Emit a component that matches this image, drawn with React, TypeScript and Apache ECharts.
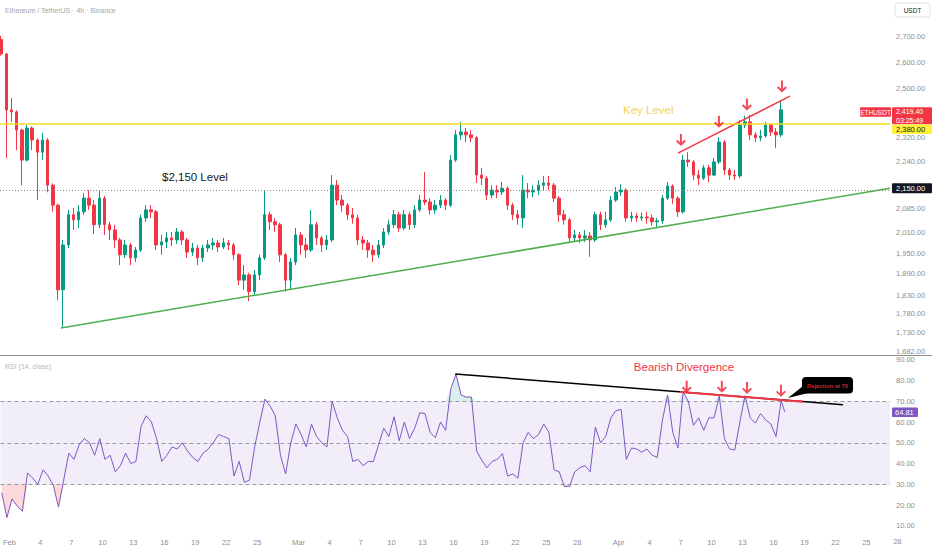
import React, { useEffect, useRef } from "react";
import * as echarts from "echarts";

// ---- time layout of the 12h candles (days from Feb 1, 00:00) ----
const FIRST_DAY = -0.75;
const CANDLE_STEP_DAYS = 0.5;
const FIRST_OPEN = 2690;

const closes = [
  2632, 2419, 2412, 2347, 2243, 2354, 2312, 2270, 2312, 2160,
  2096, 1845, 1974, 2066, 2050, 2075, 2118, 2096, 2035, 2118,
  2035, 2019, 1989, 1945, 1974, 1936, 1959, 2056, 2081, 2075,
  1974, 1983, 1995, 1989, 2013, 1989, 1953, 1965, 1936, 1965,
  1974, 1980, 1968, 1980, 1974, 1945, 1872, 1887, 1840, 1887,
  1936, 2066, 2044, 2035, 1945, 1872, 1924, 2004, 1974, 1959,
  2035, 1995, 1974, 1989, 2160, 2112, 2096, 2066, 2056, 1989,
  1980, 1959, 1945, 1974, 2013, 2035, 2066, 2025, 2066, 2035,
  2081, 2112, 2106, 2081, 2096, 2112, 2096, 2243, 2330, 2340,
  2330, 2320, 2193, 2183, 2128, 2144, 2138, 2150, 2096, 2066,
  2056, 2144, 2138, 2144, 2160, 2167, 2160, 2118, 2066, 2050,
  1995, 2004, 1995, 2001, 1989, 2066, 2035, 2050, 2112, 2138,
  2144, 2056, 2062, 2056, 2059, 2056, 2044, 2047, 2118, 2157,
  2118, 2075, 2243, 2237, 2193, 2183, 2217, 2193, 2237, 2305,
  2210, 2193, 2190, 2365, 2376, 2330, 2320, 2326, 2365, 2340,
  2330, 2419.4,
];
const highs = [
  2705, 2636, 2463, 2418, 2352, 2365, 2360, 2318, 2337, 2318,
  2166, 2100, 1989, 2081, 2087, 2096, 2134, 2144, 2112, 2144,
  2125, 2044, 2035, 1995, 1989, 1980, 1968, 2066, 2096, 2096,
  2081, 2004, 2013, 2013, 2025, 2019, 1995, 1980, 1974, 1974,
  1989, 1995, 1989, 1995, 1989, 1980, 1950, 1915, 1893, 1901,
  1945, 2144, 2075, 2056, 2041, 1950, 1936, 2025, 2013, 1995,
  2081, 2044, 2001, 2004, 2193, 2177, 2128, 2103, 2087, 2066,
  2001, 1989, 1974, 1989, 2025, 2050, 2081, 2075, 2081, 2075,
  2096, 2128, 2203, 2118, 2112, 2128, 2118, 2260, 2347, 2376,
  2354, 2347, 2325, 2217, 2190, 2160, 2160, 2170, 2156, 2103,
  2081, 2193, 2167, 2160, 2177, 2190, 2190, 2167, 2125, 2081,
  2056, 2019, 2013, 2019, 2013, 2075, 2075, 2075, 2125, 2154,
  2163, 2150, 2075, 2072, 2072, 2075, 2066, 2056, 2128, 2170,
  2163, 2125, 2260, 2270, 2243, 2210, 2227, 2227, 2250, 2322,
  2312, 2217, 2210, 2383, 2398, 2401, 2340, 2347, 2376, 2369,
  2354, 2456,
];
const lows = [
  2625, 2250, 2376, 2277, 2160, 2238, 2277, 2112, 2243, 2137,
  2075, 1817, 1745, 1965, 2019, 2025, 2066, 2081, 2007, 2025,
  2004, 1989, 1965, 1915, 1936, 1915, 1924, 1953, 2044, 2056,
  1959, 1945, 1965, 1971, 1977, 1974, 1936, 1942, 1915, 1924,
  1953, 1959, 1953, 1962, 1959, 1930, 1858, 1845, 1814, 1831,
  1872, 1930, 2019, 2013, 1924, 1840, 1845, 1915, 1945, 1936,
  1953, 1974, 1953, 1959, 1983, 2096, 2075, 2050, 2038, 1974,
  1959, 1936, 1924, 1936, 1965, 2004, 2025, 2013, 2019, 2019,
  2025, 2075, 2096, 2066, 2069, 2087, 2081, 2090, 2237, 2312,
  2305, 2305, 2167, 2160, 2112, 2118, 2118, 2128, 2081, 2050,
  2035, 2025, 2118, 2122, 2128, 2144, 2144, 2106, 2044, 2035,
  1980, 1983, 1980, 1983, 1939, 1983, 2019, 2025, 2044, 2106,
  2125, 2044, 2044, 2044, 2047, 2038, 2032, 2025, 2038, 2112,
  2100, 2059, 2069, 2220, 2177, 2160, 2177, 2170, 2190, 2230,
  2193, 2177, 2177, 2183, 2354, 2312, 2305, 2308, 2320, 2326,
  2284, 2322,
];

// RSI(14) sampled at the candles, plus the live value
const rsi = [
  26, 14, 23, 19.5, 17, 35.5, 33, 30, 37, 34,
  29.5, 19, 32, 45, 42, 49, 52, 50, 44, 52,
  42, 44, 36, 39, 45, 40, 41, 58, 63, 60,
  52, 41, 44, 48, 47, 50, 46, 43, 41, 45,
  47, 50, 54, 53, 52, 34, 41, 31, 32, 48,
  60, 71, 67.6, 63, 44, 35, 50, 59, 54, 48,
  59, 53, 50, 48, 70, 62, 56, 53, 41, 42,
  39, 41, 41, 49, 57, 53, 62.5, 51, 60, 52,
  57, 64.5, 64, 55, 52.5, 60, 56, 76, 83, 73,
  72, 72, 46, 41.6, 38, 41, 42, 44.8, 34, 35,
  33, 50, 55, 52, 54, 59, 55, 37, 36, 29,
  29, 36, 38, 39, 36, 57.6, 50, 53, 62, 65.5,
  66, 42, 47.5, 47, 45.5, 47, 44, 43, 61, 73,
  55, 47.5, 74.5, 70, 58.4, 62, 56, 62, 62, 72.5,
  52, 47, 46.5, 60, 72.7, 62, 59.5, 64, 61, 59,
  53, 70.3,
];
const RSI_LIVE = 64.81;
const RSI_LIVE_LAG_DAYS = 0.35;
const LAST_PRICE = 2419.4;
const LAST_COUNTDOWN = "03:25:49";
const KEY_LEVEL = 2380;
const SUPPORT_LEVEL = 2150;
const RSI_LOW = 30;
const RSI_MID = 50;
const RSI_HIGH = 70;

// axes (2,400 and 2,150 sit under the price badges and are not shown)
const priceTicks = [2700, 2600, 2500, 2320, 2240, 2085, 2010, 1950, 1890, 1830, 1780, 1730, 1682];
const rsiTicks = [10, 20, 30, 40, 50, 60, 70, 80, 90];
const dateTickDays = [0, 3, 6, 9, 12, 15, 18, 21, 24, 28, 31, 34, 37, 40, 43, 46, 49, 52, 55, 59, 62, 65, 68, 71, 74, 77, 80, 83];
const dateTickLabels = ["Feb", "4", "7", "10", "13", "16", "19", "22", "25", "Mar", "4", "7", "10", "13", "16", "19", "22", "25", "28", "Apr", "4", "7", "10", "13", "16", "19", "22", "25"];
const EXTRA_DATE_DAY = 86;
const EXTRA_DATE_LABEL = "28";

// drawings
const greenTrendDays = [5.03, 85.29];
const greenTrendPrices = [1742, 2150];
const redTrendDays = [64.76, 75.6];
const redTrendPrices = [2267, 2470];
const priceArrowDays = [65.05, 68.73, 71.44, 74.83];
const priceArrowPrices = [2312, 2376, 2439, 2506];
const rsiTrendDays = [43.18, 80.74];
const rsiTrendValues = [83.1, 68.3];
const rsiRedDays = [64.96, 76.86];
const rsiRedValues = [74.5, 69.8];
const rsiArrowDays = [65.6, 69.0, 71.44, 74.73];
const rsiArrowValues = [77.0, 77.0, 76.4, 75.0];

const FONT = "Liberation Sans";
const UP = "#089981";
const DOWN = "#f23645";
const ARROW = "path://M4,0L6,0L6,8.6L8.6,6L10,7.4L5,12.4L0,7.4L1.4,6L4,8.6Z";

const fmtPrice = (v: number) =>
  v.toLocaleString("en-US", { minimumFractionDigits: 2, maximumFractionDigits: 2 });

export default function App() {
  const ref = useRef<HTMLDivElement>(null);

  useEffect(() => {
    const el = ref.current!;
    const chart = echarts.init(el, null, { renderer: "svg" });
    const L = Math.log;

    const times = closes.map((_, i) => FIRST_DAY + CANDLE_STEP_DAYS * i);
    const candles = closes.map((c, i) => [
      times[i],
      L(i === 0 ? FIRST_OPEN : closes[i - 1]),
      L(c),
      L(lows[i]),
      L(highs[i]),
    ]);
    const rsiPts = rsi.map((v, i) => [times[i], v]);
    rsiPts.push([times[times.length - 1] + RSI_LIVE_LAG_DAYS, RSI_LIVE]);

    const osLine = rsiPts.map(([t, v]) => [t, Math.min(v, RSI_LOW)]);
    const obLine = rsiPts.map(([t, v]) => [t, Math.max(v, RSI_HIGH)]);

    const X_MIN = -0.871;
    const X_MAX = 85.29;
    const xCommon = {
      type: "value",
      min: X_MIN,
      max: X_MAX,
      axisLine: { show: false },
      axisTick: { show: false },
      splitLine: { show: false },
    };
    const labelStyle = { color: "#8b8e97", fontSize: 7.5, fontFamily: FONT };

    const option: any = {
      animation: false,
      backgroundColor: "#ffffff",
      textStyle: { fontFamily: FONT },
      grid: [
        { left: 0, right: 42, top: 0, height: 355 },
        { left: 0, right: 42, top: 357, height: 178 },
      ],
      xAxis: [
        { ...xCommon, gridIndex: 0, axisLabel: { show: false } },
        {
          ...xCommon,
          gridIndex: 1,
          axisLabel: {
            ...labelStyle,
            margin: 3,
            customValues: dateTickDays,
            formatter: (v: number) => {
              const k = dateTickDays.indexOf(v);
              return k >= 0 ? dateTickLabels[k] : "";
            },
          },
        },
      ],
      yAxis: [
        {
          type: "value",
          gridIndex: 0,
          position: "right",
          min: L(1672.5),
          max: L(2854.7),
          axisLine: { show: false },
          axisTick: { show: false },
          splitLine: { show: false },
          axisLabel: {
            ...labelStyle,
            margin: 6,
            customValues: priceTicks.map((p) => L(p)),
            formatter: (v: number) => fmtPrice(Math.round(Math.exp(v))),
          },
        },
        {
          type: "value",
          gridIndex: 1,
          position: "right",
          min: 5.6,
          max: 91.3,
          axisLine: { show: false },
          axisTick: { show: false },
          splitLine: { show: false },
          axisLabel: {
            ...labelStyle,
            margin: 6,
            customValues: rsiTicks,
            formatter: (v: number) => v.toFixed(2),
          },
        },
      ],
      series: [
        {
          type: "candlestick",
          xAxisIndex: 0,
          yAxisIndex: 0,
          data: candles,
          encode: { x: 0, y: [1, 2, 3, 4] },
          barWidth: 3,
          itemStyle: {
            color: UP,
            color0: DOWN,
            borderColor: UP,
            borderColor0: DOWN,
            borderWidth: 1,
          },
          markLine: {
            silent: true,
            symbol: ["none", "none"],
            label: { show: false },
            data: [
              { yAxis: L(KEY_LEVEL), lineStyle: { color: "#f5dc1e", width: 1.5, type: "solid" } },
              { yAxis: L(SUPPORT_LEVEL), lineStyle: { color: "#8a8a8a", width: 1, type: [1, 2] } },
            ],
          },
          z: 3,
        },
        {
          type: "line",
          xAxisIndex: 0,
          yAxisIndex: 0,
          data: greenTrendDays.map((d, i) => [d, L(greenTrendPrices[i])]),
          symbol: "none",
          silent: true,
          lineStyle: { color: "#4caf50", width: 1.5 },
          z: 4,
        },
        {
          type: "line",
          xAxisIndex: 0,
          yAxisIndex: 0,
          data: redTrendDays.map((d, i) => [d, L(redTrendPrices[i])]),
          symbol: "none",
          silent: true,
          lineStyle: { color: DOWN, width: 1.5 },
          z: 4,
        },
        {
          type: "scatter",
          xAxisIndex: 0,
          yAxisIndex: 0,
          data: priceArrowDays.map((d, i) => [d, L(priceArrowPrices[i])]),
          symbol: ARROW,
          symbolSize: [10, 12],
          itemStyle: { color: "#f01f2e" },
          silent: true,
          z: 6,
        },
        // RSI pane: oversold / overbought fills
        {
          type: "line",
          xAxisIndex: 1,
          yAxisIndex: 1,
          data: osLine,
          symbol: "none",
          silent: true,
          lineStyle: { width: 0, opacity: 0 },
          areaStyle: { origin: RSI_LOW, color: "rgba(242,54,69,0.28)" },
          z: 4,
        },
        {
          type: "line",
          xAxisIndex: 1,
          yAxisIndex: 1,
          data: obLine,
          symbol: "none",
          silent: true,
          lineStyle: { width: 0, opacity: 0 },
          areaStyle: { origin: RSI_HIGH, color: "rgba(8,153,129,0.22)" },
          z: 4,
        },
        {
          type: "line",
          xAxisIndex: 1,
          yAxisIndex: 1,
          data: rsiPts,
          symbol: "none",
          silent: true,
          lineStyle: { color: "#7e57c2", width: 1 },
          z: 5,
          markArea: {
            silent: true,
            itemStyle: { color: "rgba(126,87,194,0.1)" },
            data: [[{ yAxis: RSI_LOW }, { yAxis: RSI_HIGH }]],
          },
          markLine: {
            silent: true,
            symbol: ["none", "none"],
            label: { show: false },
            lineStyle: { color: "#9598a1", width: 1, type: [4, 3] },
            data: [{ yAxis: RSI_HIGH }, { yAxis: RSI_MID }, { yAxis: RSI_LOW }],
          },
        },
        {
          type: "line",
          xAxisIndex: 1,
          yAxisIndex: 1,
          data: rsiTrendDays.map((d, i) => [d, rsiTrendValues[i]]),
          symbol: "none",
          silent: true,
          lineStyle: { color: "#000000", width: 1.5 },
          z: 6,
        },
        {
          type: "line",
          xAxisIndex: 1,
          yAxisIndex: 1,
          data: rsiRedDays.map((d, i) => [d, rsiRedValues[i]]),
          symbol: "none",
          silent: true,
          lineStyle: { color: DOWN, width: 2 },
          z: 7,
        },
        {
          type: "scatter",
          xAxisIndex: 1,
          yAxisIndex: 1,
          data: rsiArrowDays.map((d, i) => [d, rsiArrowValues[i]]),
          symbol: ARROW,
          symbolSize: [10, 12],
          itemStyle: { color: "#f01f2e" },
          silent: true,
          z: 8,
        },
      ],
    };

    chart.setOption(option);

    const yP = (p: number) => chart.convertToPixel({ yAxisIndex: 0 } as any, Math.log(p)) as unknown as number;
    const yR = (v: number) => chart.convertToPixel({ yAxisIndex: 1 } as any, v) as unknown as number;
    const xR = (d: number) => chart.convertToPixel({ xAxisIndex: 1 } as any, d) as unknown as number;

    const txt = (x: number, y: number, text: string, fill: string, fontSize: number, extra: any = {}) => ({
      type: "text",
      x,
      y,
      z: 100,
      silent: true,
      style: {
        text,
        fill,
        fontSize,
        fontFamily: FONT,
        textVerticalAlign: "middle",
        ...extra,
      },
    });
    const rect = (x: number, y: number, w: number, h: number, fill: string, extra: any = {}) => ({
      type: "rect",
      z: 99,
      silent: true,
      shape: { x, y, width: w, height: h, r: extra.r ?? 1 },
      style: { fill, ...(extra.style || {}) },
    });

    const yLast = yP(LAST_PRICE);
    const yKey = yP(KEY_LEVEL);
    const ySup = yP(SUPPORT_LEVEL);
    const yRsi = yR(RSI_LIVE);

    const graphic: any[] = [
      // pane separator
      {
        type: "line",
        z: 90,
        silent: true,
        shape: { x1: 0, y1: 355.5, x2: 932, y2: 355.5 },
        style: { stroke: "#8e8e8e", lineWidth: 1.2 },
      },
      // header texts
      txt(5, 10, "Ethereum / TetherUS · 4h · Binance", "#a3a6af", 7),
      txt(5, 366, "RSI (14, close)", "#b2b5be", 7),
      // currency box
      rect(895, 3, 35, 14, "#ffffff", { r: 2, style: { stroke: "#e0e3eb", lineWidth: 1 } }),
      txt(912.5, 10, "USDT", "#131722", 6.5, { textAlign: "center" }),
      // annotations
      txt(162, 177, "$2,150 Level", "#131722", 11.5),
      txt(623, 110, "Key Level", "#f2d84a", 11.5),
      txt(684, 367, "Bearish Divergence", DOWN, 11.5, { textAlign: "center" }),
      {
        type: "polygon",
        z: 98,
        silent: true,
        shape: { points: [[803, 386], [812, 392], [788, 398]] },
        style: { fill: "#000000" },
      },
      rect(802, 377, 51, 16.5, "#000000", { r: 4 }),
      txt(827.5, 385.5, "Rejection at 70", "#c62828", 5.8, { textAlign: "center", fontWeight: "bold" }),
      // last-price badges
      rect(860, yLast - 2.5, 31, 9.5, DOWN),
      txt(875.5, yLast + 2.2, "ETHUSDT", "#ffffff", 6.5, { textAlign: "center" }),
      rect(892, yLast - 2.5, 40, 17, DOWN),
      txt(896, yLast + 6, fmtPrice(LAST_PRICE) + "\n" + LAST_COUNTDOWN, "#ffffff", 7, { lineHeight: 8.5 }),
      rect(892, yKey + 3.8, 40, 9.5, "#fff03b"),
      txt(896, yKey + 8.6, fmtPrice(KEY_LEVEL), "#131722", 7.5),
      rect(892, ySup - 5, 40, 10, "#131722"),
      txt(896, ySup, fmtPrice(SUPPORT_LEVEL), "#ffffff", 7.5),
      rect(892, yRsi - 4.5, 26, 9.5, "#7e57c2"),
      txt(895, yRsi, RSI_LIVE.toFixed(2), "#ffffff", 7.5),
      // date label beyond the plot edge
      txt(xR(EXTRA_DATE_DAY), 541, EXTRA_DATE_LABEL, "#8b8e97", 7.5, { textAlign: "center" }),
    ];

    chart.setOption({ graphic });

    return () => chart.dispose();
  }, []);

  return (
    <div
      ref={ref}
      style={{ position: "fixed", left: 0, top: 0, width: 932, height: 550, background: "#ffffff" }}
    />
  );
}
